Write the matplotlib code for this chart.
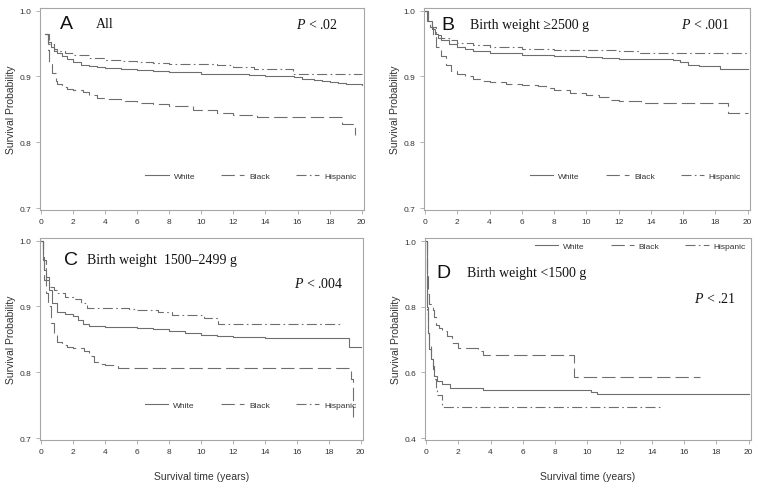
import numpy as np
import matplotlib.pyplot as plt

# ---- data (Kaplan-Meier steps) ----
# Panel A: All
a_white_t = [0.25, 0.4, 0.6, 0.8, 1.0, 1.3, 1.6, 2.0, 2.5, 3.0, 3.5, 4.0, 5.0, 6.0, 7.0, 8.0, 9.0, 10.0,
             11.0, 12.0, 13.0, 14.0, 15.0, 15.8, 16.3, 17.0, 17.5, 18.0, 18.5, 19.0, 19.5, 20.0]
a_white_s = [0.965, 0.952, 0.944, 0.939, 0.935, 0.931, 0.927, 0.922, 0.918, 0.916, 0.914, 0.913, 0.912,
             0.910, 0.908, 0.907, 0.906, 0.904, 0.904, 0.903, 0.902, 0.901, 0.900, 0.899, 0.896, 0.894,
             0.893, 0.892, 0.890, 0.889, 0.888, 0.887]
a_black_t = [0.25, 0.4, 0.5, 0.7, 0.9, 1.0, 1.3, 1.6, 2.0, 2.6, 3.0, 3.5, 4.0, 5.0, 6.0, 7.0, 8.0, 9.5,
             11.0, 12.0, 13.5, 16.0, 18.8, 19.6]
a_black_s = [0.965, 0.94, 0.922, 0.905, 0.893, 0.889, 0.884, 0.881, 0.879, 0.876, 0.872, 0.867, 0.866,
             0.863, 0.860, 0.858, 0.855, 0.849, 0.844, 0.842, 0.838, 0.838, 0.827, 0.811]
a_hisp_t = [0.25, 0.5, 0.8, 1.0, 1.5, 2.0, 3.0, 4.0, 5.0, 6.0, 7.0, 8.0, 10.0, 11.0, 12.0, 13.3, 15.7, 20.0]
a_hisp_s = [0.965, 0.950, 0.941, 0.938, 0.935, 0.932, 0.928, 0.925, 0.923, 0.922, 0.920, 0.919, 0.919,
            0.917, 0.915, 0.912, 0.903, 0.903]

# Panel B: >=2500 g
b_white_t = [0, 0.2, 0.4, 0.6, 0.8, 1.0, 1.5, 2.0, 2.5, 3.0, 4.0, 5.0, 6.0, 8.0, 10.0, 11.0, 12.0, 14.0,
             15.4, 15.8, 16.3, 17.0, 18.3, 20.0]
b_white_s = [1.0, 0.985, 0.972, 0.964, 0.959, 0.956, 0.950, 0.945, 0.941, 0.939, 0.936, 0.935, 0.933,
             0.931, 0.929, 0.928, 0.927, 0.926, 0.925, 0.922, 0.918, 0.916, 0.912, 0.911]
b_black_t = [0, 0.1, 0.3, 0.5, 0.7, 1.0, 1.3, 1.6, 2.0, 2.5, 3.0, 3.5, 4.0, 5.0, 6.0, 7.0, 7.5, 8.0, 9.0,
             10.0, 10.8, 11.5, 12.0, 13.4, 18.8, 20.0]
b_black_s = [1.0, 0.985, 0.975, 0.962, 0.945, 0.931, 0.918, 0.908, 0.903, 0.900, 0.896, 0.893, 0.891,
             0.889, 0.887, 0.885, 0.882, 0.879, 0.875, 0.872, 0.868, 0.864, 0.863, 0.859, 0.844, 0.844]
b_hisp_t = [0, 0.2, 0.4, 0.7, 1.0, 1.5, 2.0, 3.0, 4.0, 5.0, 6.0, 8.0, 10.0, 12.0, 13.3, 20.0]
b_hisp_s = [1.0, 0.985, 0.975, 0.963, 0.959, 0.955, 0.951, 0.948, 0.945, 0.944, 0.942, 0.940, 0.940,
            0.939, 0.935, 0.935]

# Panel C: 1500-2499 g
c_white_t = [0, 0.1, 0.2, 0.3, 0.5, 0.7, 1.0, 1.5, 2.0, 2.3, 2.6, 3.0, 4.0, 5.0, 6.0, 7.0, 8.0, 9.0,
             10.0, 11.0, 12.0, 14.0, 19.3, 20.0]
c_white_s = [1.0, 0.975, 0.955, 0.94, 0.925, 0.905, 0.892, 0.889, 0.885, 0.880, 0.874, 0.871, 0.869,
             0.869, 0.867, 0.865, 0.863, 0.859, 0.857, 0.855, 0.854, 0.852, 0.839, 0.839]
c_black_t = [0, 0.1, 0.2, 0.3, 0.4, 0.6, 0.8, 1.0, 1.3, 1.6, 2.0, 2.7, 3.0, 3.3, 3.6, 4.0, 4.8, 19.4, 19.5]
c_black_s = [1.0, 0.97, 0.94, 0.92, 0.90, 0.875, 0.857, 0.846, 0.842, 0.839, 0.837, 0.833, 0.825, 0.815,
             0.812, 0.811, 0.806, 0.79, 0.732]
c_hisp_t = [0, 0.1, 0.3, 0.5, 0.8, 1.0, 1.5, 2.0, 2.5, 2.9, 5.5, 6.0, 7.3, 8.2, 9.0, 10.2, 11.1, 18.8]
c_hisp_s = [1.0, 0.97, 0.945, 0.930, 0.925, 0.920, 0.915, 0.912, 0.905, 0.898, 0.896, 0.894, 0.891,
            0.887, 0.887, 0.882, 0.873, 0.873]

# Panel D: <1500 g
d_white_t = [0, 0.05, 0.1, 0.2, 0.3, 0.4, 0.5, 0.7, 1.0, 1.5, 3.5, 9.8, 10.2, 10.6, 20.0]
d_white_s = [1.0, 0.80, 0.72, 0.67, 0.64, 0.62, 0.59, 0.575, 0.566, 0.553, 0.548, 0.546, 0.540, 0.533, 0.533]
d_black_t = [0, 0.05, 0.1, 0.2, 0.4, 0.5, 0.6, 0.8, 1.0, 1.3, 1.6, 2.0, 2.8, 3.2, 3.5, 9.2, 17.0]
d_black_s = [1.0, 0.90, 0.84, 0.81, 0.79, 0.77, 0.745, 0.735, 0.725, 0.71, 0.69, 0.676, 0.676, 0.664,
             0.652, 0.586, 0.586]
d_hisp_t = [0, 0.05, 0.1, 0.2, 0.3, 0.4, 0.5, 0.6, 0.7, 1.0, 14.5]
d_hisp_s = [1.0, 0.78, 0.72, 0.68, 0.64, 0.61, 0.58, 0.55, 0.53, 0.495, 0.495]

groups = ['White', 'Black', 'Hispanic']
letters = ['A', 'B', 'C', 'D']
titles = ['All', 'Birth weight \u22652500 g', 'Birth weight  1500\u20132499 g', 'Birth weight <1500 g']
pvals = ['.02', '.001', '.004', '.21']

panels = [
    [(a_white_t, a_white_s), (a_black_t, a_black_s), (a_hisp_t, a_hisp_s)],
    [(b_white_t, b_white_s), (b_black_t, b_black_s), (b_hisp_t, b_hisp_s)],
    [(c_white_t, c_white_s), (c_black_t, c_black_s), (c_hisp_t, c_hisp_s)],
    [(d_white_t, d_white_s), (d_black_t, d_black_s), (d_hisp_t, d_hisp_s)],
]

plt.rcParams['font.family'] = ['Liberation Sans', 'DejaVu Sans']
plt.rcParams['mathtext.fontset'] = 'custom'
plt.rcParams['mathtext.it'] = 'Liberation Serif:italic'
plt.rcParams['mathtext.rm'] = 'Liberation Serif'
serif = ['Liberation Serif', 'DejaVu Serif']
line_col = '#6e6e6e'
frame_col = '#a6a6a6'
text_col = '#333333'
styles = ['-', (0, (12, 4.5)), (0, (9, 3, 1.5, 3))]

fig = plt.figure(figsize=(7.62, 4.89), dpi=100)
# axes boxes in pixels: (left, top, right, bottom)
boxes = [(40, 9, 364, 211), (424, 9, 750, 211), (40, 239, 363, 441), (425, 239, 751, 441)]
ylims = [(0.697, 1.004), (0.697, 1.004), (0.697, 1.004), (0.394, 1.01)]
yticks = [[0.7, 0.8, 0.9, 1.0]] * 3 + [[0.4, 0.6, 0.8, 1.0]]
# text positions (data coords): letter, title, p-value
letter_pos = [(1.2, 0.980), (1.0, 0.979), (1.45, 0.971), (0.65, 0.906)]
title_pos = [(3.4, 0.980), (2.8, 0.979), (2.85, 0.971), (2.55, 0.906)]
p_pos = [(15.9, 0.980), (15.9, 0.979), (15.8, 0.935), (16.6, 0.826)]
leg_pos = [(0.325, 0.168), (0.325, 0.168), (0.325, 0.173), (0.337, 0.96)]

W, H = 762, 489
for i in range(4):
    l, t, r, b = boxes[i]
    ax = fig.add_axes([l / W, 1 - b / H, (r - l) / W, (b - t) / H])
    for g, (tt, ss) in enumerate(panels[i]):
        ax.plot(tt, ss, drawstyle='steps-post', color=line_col, lw=0.8,
                linestyle=styles[g], label=groups[g])
    ax.set_xlim(-0.07, 20.15)
    ax.set_ylim(*ylims[i])
    ax.set_xticks(np.arange(0, 21, 2))
    ax.set_yticks(yticks[i])
    ax.yaxis.set_major_formatter(plt.FormatStrFormatter('%.1f'))
    for sp in ax.spines.values():
        sp.set_color(frame_col)
        sp.set_linewidth(0.8)
    ax.tick_params(direction='out', length=3, width=0.6, color=frame_col,
                   labelsize=6, labelcolor=text_col, pad=3)
    ax.set_ylabel('Survival Probability', fontsize=7.5, color=text_col, labelpad=3)
    if i >= 2:
        ax.set_xlabel('Survival time (years)', fontsize=7.5, color=text_col, labelpad=11)

    ax.text(*letter_pos[i], letters[i], fontsize=14, va='center', ha='left', color='#111111')
    ax.text(*title_pos[i], titles[i], fontsize=10, va='center', ha='left', family=serif, color='#111111')
    ax.text(*p_pos[i], '$P$ < ' + pvals[i], fontsize=10, va='center', ha='left', family=serif,
            color='#111111')

    leg = ax.legend(loc='center left', bbox_to_anchor=leg_pos[i], ncol=3, frameon=False,
                    fontsize=6, handlelength=2.8, handletextpad=0.6, columnspacing=3.1,
                    borderpad=0, borderaxespad=0)
    for txt in leg.get_texts():
        txt.set_color(text_col)

fig.savefig('out.png', dpi=100)
